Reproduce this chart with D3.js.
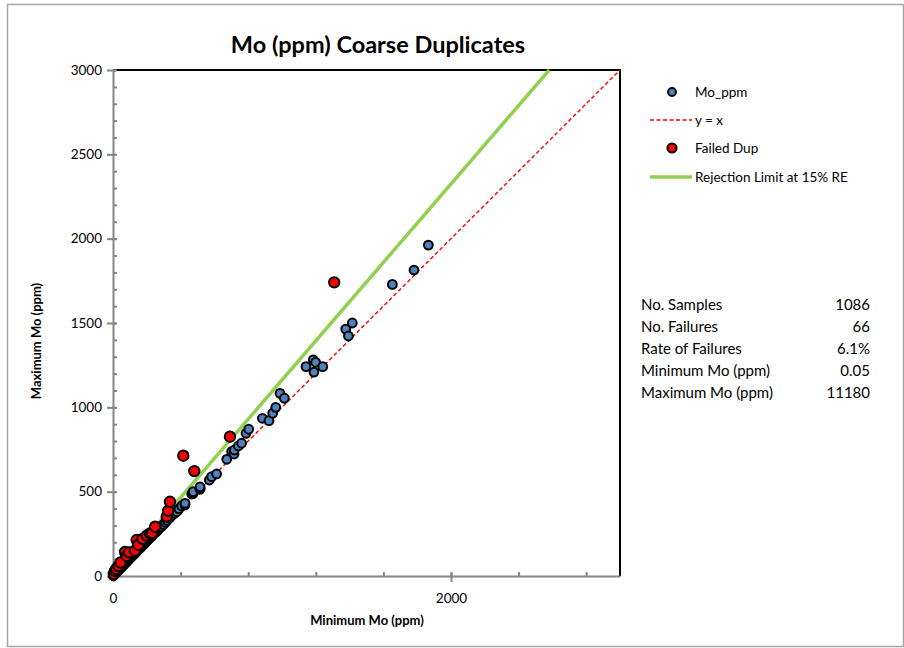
<!DOCTYPE html>
<html>
<head>
<meta charset="utf-8">
<script src="https://cdn.jsdelivr.net/npm/d3@7/dist/d3.min.js"></script>
<style>
	body { margin: 0; background: #fff; }
	svg text { font-family: Lato, "Open Sans", sans-serif; fill: #000; }
	.axis path, .axis line { stroke: #868686; stroke-width: 2; fill: none; }
	.axis text { font-size: 13.5px; font-family: Lato, "Open Sans", sans-serif; }
</style>
</head>
<body>
<script>
// passing duplicates (min, max in ppm)
var moMin = [2, 3, 5, 8, 10, 14, 18, 22, 25, 30, 35, 40, 45, 50, 55, 60, 65, 70, 75, 80, 88, 95, 100, 108, 115, 120, 128, 135, 142, 150, 158, 165, 172, 180, 188, 195, 205, 212, 220, 230, 238, 245, 255, 265, 275, 285, 298, 310, 320, 335, 350, 365, 377, 390, 406, 426, 426, 466, 475, 475, 515, 515, 515, 570, 584, 613, 673, 702, 716, 718, 742, 761, 787, 803, 884, 923, 945, 963, 988, 1014, 1142, 1185, 1189, 1199, 1241, 1377, 1393, 1416, 1653, 1781, 1866];
var moMax = [2, 4, 6, 9, 12, 15, 20, 23, 28, 32, 37, 43, 46, 54, 58, 62, 70, 73, 80, 84, 92, 99, 106, 112, 120, 127, 133, 140, 150, 156, 165, 170, 180, 186, 195, 203, 212, 220, 228, 236, 247, 255, 262, 272, 283, 292, 305, 318, 330, 345, 360, 372, 381, 398, 415, 421, 431, 486, 490, 500, 514, 520, 529, 569, 589, 605, 692, 737, 723, 747, 771, 787, 846, 870, 935, 921, 965, 1000, 1083, 1054, 1241, 1281, 1209, 1267, 1241, 1464, 1423, 1500, 1729, 1814, 1962];
// failed duplicates
var failMin = [5, 12, 20, 32, 45, 71, 81, 95, 130, 140, 150, 175, 200, 219, 231, 249, 318, 327, 337, 416, 481, 692, 1309];
var failMax = [12, 30, 42, 59, 80, 142, 119, 140, 150, 213, 184, 220, 240, 253, 255, 292, 352, 387, 440, 713, 622, 826, 1741];

var statLabels = ["No. Samples", "No. Failures", "Rate of Failures", "Minimum Mo (ppm)", "Maximum Mo (ppm)"];
var statValues = ["1086", "66", "6.1%", "0.05", "11180"];

var legendNames = ["Mo_ppm", "y = x", "Failed Dup", "Rejection Limit at 15% RE"];
var rejectRE = 0.15;

var width = 904, height = 648;
var plotLeft = 113, plotRight = 620, plotTop = 70, plotBottom = 576;

var svg = d3.select("body").append("svg")
	.attr("width", width)
	.attr("height", height);

svg.append("rect")
	.attr("x", 7.5).attr("y", 4.5)
	.attr("width", 896).attr("height", 642)
	.attr("fill", "#fff").attr("stroke", "#a6a6a6").attr("stroke-width", 1.5);

var x = d3.scaleLinear().domain([0, 3000]).range([plotLeft, plotRight]);
var y = d3.scaleLinear().domain([0, 3000]).range([plotBottom, plotTop]);

// border top/right
svg.append("path")
	.attr("d", "M" + plotLeft + "," + plotTop + "H" + plotRight + "V" + plotBottom)
	.attr("fill", "none").attr("stroke", "#000").attr("stroke-width", 2);

// minor ticks (inside)
var yMinor = svg.append("g").attr("class", "axis")
	.attr("transform", "translate(" + plotLeft + ",0)")
	.call(d3.axisRight(y).tickValues(d3.range(0, 3001, 100)).tickSize(4).tickFormat(""));
yMinor.select(".domain").remove();
var xMinor = svg.append("g").attr("class", "axis")
	.attr("transform", "translate(0," + plotBottom + ")")
	.call(d3.axisTop(x).tickValues(d3.range(0, 3000, 400)).tickSize(4).tickFormat(""));
xMinor.select(".domain").remove();

// major axes
var yAxis = svg.append("g").attr("class", "axis")
	.attr("transform", "translate(" + plotLeft + ",0)")
	.call(d3.axisLeft(y).tickValues(d3.range(0, 3001, 500)).tickFormat(d3.format("d"))
		.tickSizeInner(6).tickSizeOuter(0).tickPadding(5));
yAxis.selectAll(".tick line").attr("x2", -6).attr("x1", 3);
var xAxis = svg.append("g").attr("class", "axis")
	.attr("transform", "translate(0," + plotBottom + ")")
	.call(d3.axisBottom(x).tickValues([0, 2000]).tickFormat(d3.format("d"))
		.tickSizeInner(6).tickSizeOuter(0).tickPadding(11));
xAxis.selectAll(".tick line").attr("y1", -3).attr("y2", 6);

// lines
var k = (1 + rejectRE / 2) / (1 - rejectRE / 2);
svg.append("line")
	.attr("x1", x(0)).attr("y1", y(0)).attr("x2", x(3000)).attr("y2", y(3000))
	.attr("stroke", "#ff0000").attr("stroke-width", 1.4).attr("stroke-dasharray", "4,2.5");
svg.append("line")
	.attr("x1", x(0)).attr("y1", y(0)).attr("x2", x(3000 / k)).attr("y2", y(3000))
	.attr("stroke", "#92d050").attr("stroke-width", 3.5);

// points
svg.append("g").selectAll("circle")
	.data(d3.range(moMin.length))
	.join("circle")
	.attr("cx", function(i) { return x(moMin[i]); })
	.attr("cy", function(i) { return y(moMax[i]); })
	.attr("r", 4.4)
	.attr("fill", "#4f81bd").attr("stroke", "#000").attr("stroke-width", 2);
svg.append("g").selectAll("circle")
	.data(d3.range(failMin.length))
	.join("circle")
	.attr("cx", function(i) { return x(failMin[i]); })
	.attr("cy", function(i) { return y(failMax[i]); })
	.attr("r", 5.2)
	.attr("fill", "#ff0000").attr("stroke", "#000").attr("stroke-width", 2);

// titles
svg.append("text")
	.attr("x", 378).attr("y", 53)
	.attr("text-anchor", "middle")
	.style("font-size", "23.5px").style("font-weight", "bold")
	.text("Mo (ppm) Coarse Duplicates");
svg.append("text")
	.attr("x", 367).attr("y", 625)
	.attr("text-anchor", "middle")
	.style("font-size", "13px").style("font-weight", "bold")
	.text("Minimum Mo (ppm)");
svg.append("text")
	.attr("transform", "translate(41,341) rotate(-90)")
	.attr("text-anchor", "middle")
	.style("font-size", "13px").style("font-weight", "bold")
	.text("Maximum Mo (ppm)");

// legend
var lg = svg.append("g");
var ly = [92, 120, 148, 177];
lg.append("circle").attr("cx", 672).attr("cy", ly[0]).attr("r", 4)
	.attr("fill", "#4f81bd").attr("stroke", "#000").attr("stroke-width", 2);
lg.append("line").attr("x1", 650).attr("x2", 692).attr("y1", ly[1]).attr("y2", ly[1])
	.attr("stroke", "#ff0000").attr("stroke-width", 1.4).attr("stroke-dasharray", "4,2.5");
lg.append("circle").attr("cx", 672).attr("cy", ly[2]).attr("r", 4.6)
	.attr("fill", "#ff0000").attr("stroke", "#000").attr("stroke-width", 2);
lg.append("line").attr("x1", 650).attr("x2", 692).attr("y1", ly[3]).attr("y2", ly[3])
	.attr("stroke", "#92d050").attr("stroke-width", 3.5);
lg.selectAll("text").data(legendNames).join("text")
	.attr("x", 695).attr("y", function(d, i) { return ly[i] + 4.5; })
	.style("font-size", "13.5px")
	.text(function(d) { return d; });

// stats table
var st = svg.append("g");
st.selectAll("text.lab").data(statLabels).join("text").attr("class", "lab")
	.attr("x", 641).attr("y", function(d, i) { return 310 + i * 22; })
	.style("font-size", "15px")
	.text(function(d) { return d; });
st.selectAll("text.val").data(statValues).join("text").attr("class", "val")
	.attr("x", 870).attr("y", function(d, i) { return 310 + i * 22; })
	.attr("text-anchor", "end")
	.style("font-size", "15px")
	.text(function(d) { return d; });
</script>
</body>
</html>
